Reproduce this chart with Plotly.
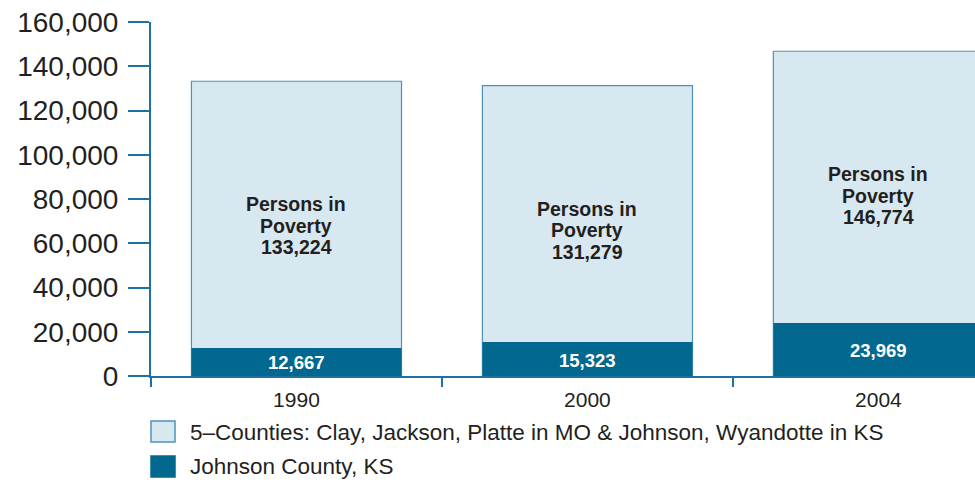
import plotly.graph_objects as go

# ---- data ----
years = ["1990", "2000", "2004"]
five_counties = [133224, 131279, 146774]
johnson_county = [12667, 15323, 23969]
series_names = [
    "5\u2013Counties: Clay, Jackson, Platte in MO & Johnson, Wyandotte in KS",
    "Johnson County, KS",
]
y_tick_values = [0, 20000, 40000, 60000, 80000, 100000, 120000, 140000, 160000]
y_tick_labels = [f"{v:,}" for v in y_tick_values]
bar_label_lines = ["Persons in", "Poverty"]

# ---- style ----
FONT = "Liberation Sans, Arial, Helvetica, sans-serif"
TEXT = "#231f20"
AXIS = "#1f72a0"
LIGHT = "#d8e8f1"
LIGHT_EDGE = "#4d92ba"
DARK = "#03688f"

W, H = 975, 483
L, R, T, B = 151, 0, 22, 107
PW, PH = W - L - R, H - T - B


def px_x(px):
    return (px - L) / PW


def px_y(py):
    return (H - B - py) / PH


fig = go.Figure()
fig.add_trace(go.Bar(
    x=years, y=five_counties, width=0.722, name=series_names[0],
    marker=dict(color=LIGHT, line=dict(color=LIGHT_EDGE, width=1.2)),
    showlegend=False,
))
fig.add_trace(go.Bar(
    x=years, y=johnson_county, width=0.722, name=series_names[1],
    marker=dict(color=DARK, line=dict(width=0)),
    showlegend=False,
))

annotations = []
for i, tot in enumerate(five_counties):
    lines = bar_label_lines + [f"{tot:,}"]
    for k, line in enumerate(lines):
        annotations.append(dict(
            x=i, y=tot, xref="x", yref="y", text=f"<b>{line}</b>",
            showarrow=False, xanchor="center", yanchor="middle",
            yshift=-(123 + 21.5 * k),
            font=dict(family=FONT, size=19.5, color=TEXT),
        ))
for i, v in enumerate(johnson_county):
    annotations.append(dict(
        x=i, y=v / 2, xref="x", yref="y", text=f"<b>{v:,}</b>",
        showarrow=False, xanchor="center", yanchor="middle", yshift=-1,
        font=dict(family=FONT, size=18.5, color="white"),
    ))

# manual legend
legend_rows = [(421, 442, LIGHT, LIGHT_EDGE, 432), (456, 477, DARK, DARK, 466)]
shapes = []
for (y0, y1, fill, edge, yc), name in zip(legend_rows, series_names):
    shapes.append(dict(
        type="rect", xref="paper", yref="paper",
        x0=px_x(151), x1=px_x(175), y0=px_y(y1), y1=px_y(y0),
        fillcolor=fill, line=dict(color=edge, width=1.5),
    ))
    annotations.append(dict(
        x=px_x(188), y=px_y(yc), xref="paper", yref="paper", text=name,
        showarrow=False, xanchor="left", yanchor="middle",
        font=dict(family=FONT, size=22.5, color=TEXT),
    ))

fig.update_layout(
    width=W, height=H,
    margin=dict(l=L, r=R, t=T, b=B, pad=0),
    paper_bgcolor="white", plot_bgcolor="white",
    barmode="overlay",
    showlegend=False,
    annotations=annotations,
    shapes=shapes,
    font=dict(family=FONT, color=TEXT),
    xaxis=dict(
        type="category", range=[-0.5, 2.332],
        tickson="boundaries", ticks="outside", ticklen=9, tickwidth=2,
        tickcolor=AXIS, showline=True, linecolor=AXIS, linewidth=2,
        showgrid=False, zeroline=False, ticklabelstandoff=4,
        tickfont=dict(family=FONT, size=21, color=TEXT),
    ),
    yaxis=dict(
        range=[0, 160000], tickmode="array",
        tickvals=y_tick_values, ticktext=y_tick_labels,
        ticks="outside", ticklen=21, tickwidth=2, tickcolor=AXIS,
        showline=True, linecolor=AXIS, linewidth=2,
        showgrid=False, zeroline=False, ticklabelstandoff=4,
        tickfont=dict(family=FONT, size=28, color=TEXT),
    ),
)

fig.write_html("out.html")
